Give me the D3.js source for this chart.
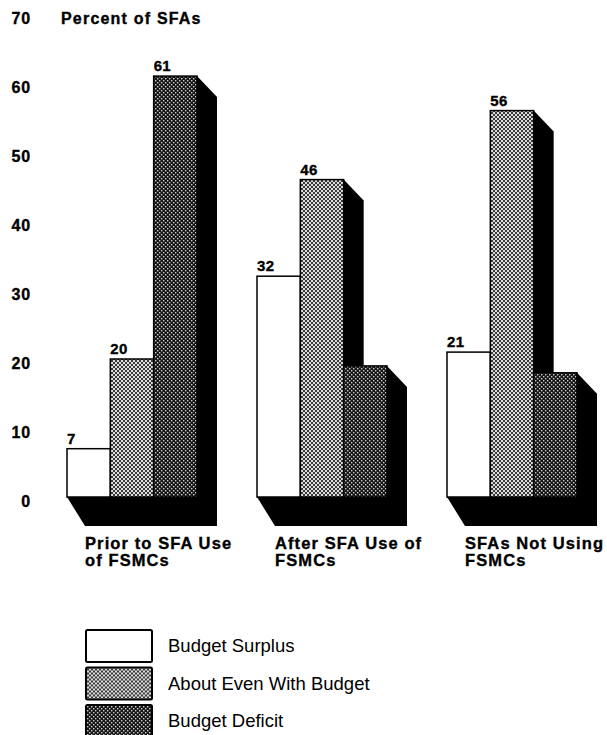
<!DOCTYPE html>
<html>
<head>
<meta charset="utf-8">
<script src="https://cdn.jsdelivr.net/npm/d3@7"></script>
<style>
  body { margin: 0; background: #fff; }
  svg { display: block; }
  .bold { font-family: "Liberation Sans", Arial, sans-serif; font-weight: bold; stroke: #000; stroke-width: 0.35; }
</style>
</head>
<body>
<svg width="607" height="735"></svg>
<script>
const width = 607,
    height = 735,
    base = 497,
    dx = 20,   // 3d offset of the bar sides
    dy = 21,
    floorDepth = 29;

const categories = [
  ["Prior to SFA Use", "of FSMCs"],
  ["After SFA Use of", "FSMCs"],
  ["SFAs Not Using", "FSMCs"]
];
const seriesNames = ["Budget Surplus", "About Even With Budget", "Budget Deficit"];
const surplus = [7, 32, 21];
const even = [20, 46, 56];
const deficit = [61, 19, 18];
const yTicks = [0, 10, 20, 30, 40, 50, 60, 70];

const svg = d3.select("svg");

// dotted fills
const defs = svg.append("defs");
const pMid = defs.append("pattern").attr("id", "mid")
    .attr("width", 4).attr("height", 4).attr("patternUnits", "userSpaceOnUse");
pMid.append("rect").attr("width", 4).attr("height", 4).attr("fill", "#dcdcdc");
pMid.append("rect").attr("x", 0).attr("y", 0).attr("width", 2).attr("height", 2).attr("fill", "#3a3a3a");
pMid.append("rect").attr("x", 2).attr("y", 2).attr("width", 2).attr("height", 2).attr("fill", "#3a3a3a");

const pDark = defs.append("pattern").attr("id", "dark")
    .attr("width", 4).attr("height", 4).attr("patternUnits", "userSpaceOnUse");
pDark.append("rect").attr("width", 4).attr("height", 4).attr("fill", "#151515");
pDark.append("rect").attr("x", 0).attr("y", 0).attr("width", 1.4).attr("height", 1.4).attr("fill", "#cfcfcf");
pDark.append("rect").attr("x", 2).attr("y", 2).attr("width", 1.4).attr("height", 1.4).attr("fill", "#cfcfcf");

const fills = ["#fff", "url(#mid)", "url(#dark)"];

const y = d3.scaleLinear().domain([0, 70]).range([base, base - 70 * 6.9]);

const x0 = d3.scaleBand()
    .domain(d3.range(categories.length))
    .range([67, 67 + 2 * 190 + 130])
    .paddingInner(60 / 190)
    .paddingOuter(0);

const x1 = d3.scaleBand()
    .domain(d3.range(seriesNames.length))
    .range([0, x0.bandwidth()]);

const groups = categories.map((c, i) => ({
  i: i,
  label: c,
  values: [surplus[i], even[i], deficit[i]]
}));

// y axis labels
const yAxis = svg.append("g")
    .attr("transform", "translate(31,0)")
    .call(d3.axisLeft(y).tickValues(yTicks).tickSize(0).tickPadding(0));
yAxis.select(".domain").remove();
yAxis.selectAll("text")
    .attr("class", "bold")
    .attr("font-size", 16)
    .attr("letter-spacing", 0.8)
    .attr("fill", "#000")
    .attr("dy", "0.32em")
    .attr("y", 4);

svg.append("text")
    .attr("class", "bold")
    .attr("x", 61)
    .attr("y", y(70) + 4)
    .attr("dy", "0.35em")
    .attr("font-size", 16)
    .attr("letter-spacing", 1.2)
    .text("Percent of SFAs");

const g = svg.append("g").selectAll("g")
  .data(groups)
  .join("g")
  .attr("transform", d => `translate(${x0(d.i)},0)`);

// floor slab
g.append("path")
  .attr("fill", "#000")
  .attr("d", d => {
    const w = x0.bandwidth();
    return `M0,${base}L${w + dx},${base}L${w + dx},${base + floorDepth}L${18},${base + floorDepth}Z`;
  });

const bars = g.selectAll("g.bar")
  .data(d => d.values.map((v, k) => ({ k: k, v: v })))
  .join("g")
  .attr("class", "bar");

// side of each bar, drawn in order so later fronts cover earlier sides
bars.each(function (d) {
  const sel = d3.select(this);
  const xl = x1(d.k), xr = xl + x1.bandwidth(), top = y(d.v);
  sel.append("path")
    .attr("fill", "#000")
    .attr("d", `M${xl},${top}L${xr},${top}L${xr + dx},${top + dy}L${xr + dx},${base + floorDepth}L${xl},${base}Z`);
  sel.append("rect")
    .attr("x", xl)
    .attr("y", top)
    .attr("width", x1.bandwidth())
    .attr("height", base - top)
    .attr("fill", fills[d.k])
    .attr("stroke", "#000")
    .attr("stroke-width", 1.5);
  sel.append("text")
    .attr("class", "bold")
    .attr("x", xl)
    .attr("y", top - 5)
    .attr("font-size", 15)
    .attr("letter-spacing", 0.3)
    .text(d.v);
});

// category labels
g.append("text")
  .attr("class", "bold")
  .attr("font-size", 16.5)
  .attr("letter-spacing", 1.1)
  .selectAll("tspan")
  .data(d => d.label)
  .join("tspan")
  .attr("x", 18)
  .attr("y", (d, i) => 549 + i * 16.5)
  .text(d => d);

// legend
const legend = svg.append("g").selectAll("g")
  .data(seriesNames)
  .join("g")
  .attr("transform", (d, i) => `translate(85,${629 + i * 37.5})`);

legend.append("rect")
  .attr("x", 1)
  .attr("y", 1)
  .attr("width", 66)
  .attr("height", 32)
  .attr("fill", (d, i) => fills[i])
  .attr("stroke", "#000")
  .attr("stroke-width", 2)
  .attr("rx", 1.5);

legend.append("text")
  .attr("x", 83)
  .attr("y", 17)
  .attr("dy", "0.35em")
  .attr("font-family", "Liberation Sans, Arial, sans-serif")
  .attr("font-size", 18.5)
  .text(d => d);
</script>
</body>
</html>
